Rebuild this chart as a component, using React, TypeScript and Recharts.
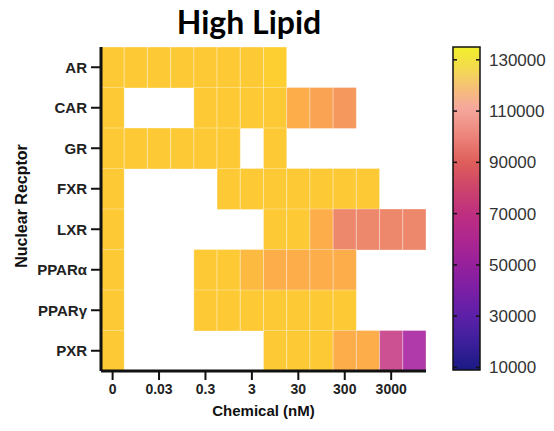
import React from "react";
import { BarChart, Bar, XAxis, YAxis, Cell, Label } from "recharts";

// rows / columns of the heatmap
const receptors = ["AR", "CAR", "GR", "FXR", "LXR", "PPARα", "PPARγ", "PXR"];
const concentrations = [
  "0", "0.01", "0.03", "0.1", "0.3", "1", "3",
  "10", "30", "100", "300", "1000", "3000", "10000",
];
const xTickLabels = ["0", "0.03", "0.3", "3", "30", "300", "3000"];

// activity per concentration (null = not measured / blank)
const n = null;
const arVals = [128000, 128000, 128000, 128000, 128000, 128000, 128000, 131000, n, n, n, n, n, n];
const carVals = [128000, n, n, n, 128000, 128000, 128000, 128000, 117000, 114000, 111000, n, n, n];
const grVals = [128000, 128000, 128000, 128000, 128000, 128000, n, 128000, n, n, n, n, n, n];
const fxrVals = [128000, n, n, n, n, 128000, 128000, 128000, 128000, 128000, 128000, 128000, n, n];
const lxrVals = [128000, n, n, n, n, n, n, 128000, 128000, 117000, 105000, 105000, 105000, 105000];
const pparaVals = [128000, n, n, n, 128000, 128000, 122000, 117000, 117000, 117000, 117000, n, n, n];
const ppargVals = [128000, n, n, n, 128000, 128000, 128000, 128000, 128000, 128000, 128000, n, n, n];
const pxrVals = [128000, n, n, n, n, n, n, 128000, 128000, 128000, 117000, 117000, 72000, 60000];

const matrix = [arVals, carVals, grVals, fxrVals, lxrVals, pparaVals, ppargVals, pxrVals];

// colour bar
const cbMin = 9000;
const cbMax = 135000;
const cbTicks = [130000, 110000, 90000, 70000, 50000, 30000, 10000];

const cellStops: [number, string][] = [
  [60000, "#b03aa9"],
  [72000, "#cc5193"],
  [105000, "#ee886c"],
  [111000, "#f5985e"],
  [114000, "#faa453"],
  [117000, "#fdad4a"],
  [122000, "#fdba41"],
  [128000, "#fdc935"],
  [131000, "#fecf31"],
];

const barStops: [number, string][] = [
  [135000, "#f2ef2a"],
  [127000, "#f3db4e"],
  [119000, "#f6bf78"],
  [111000, "#f5a79c"],
  [100000, "#ec837a"],
  [90000, "#de5e5a"],
  [80000, "#cd446b"],
  [70000, "#bf2f80"],
  [60000, "#ad278f"],
  [50000, "#96209c"],
  [40000, "#7a1fa6"],
  [30000, "#5c20a8"],
  [20000, "#3d1f9b"],
  [9000, "#1a1a84"],
];

function hexToRgb(h: string) {
  const v = parseInt(h.slice(1), 16);
  return [(v >> 16) & 255, (v >> 8) & 255, v & 255];
}

function cellColor(v: number | null) {
  if (v == null) return "transparent";
  if (v <= cellStops[0][0]) return cellStops[0][1];
  for (let i = 1; i < cellStops.length; i++) {
    const [v1, c1] = cellStops[i];
    const [v0, c0] = cellStops[i - 1];
    if (v <= v1) {
      const t = (v - v0) / (v1 - v0);
      const a = hexToRgb(c0);
      const b = hexToRgb(c1);
      const m = a.map((x, k) => Math.round(x + (b[k] - x) * t));
      return `rgb(${m[0]},${m[1]},${m[2]})`;
    }
  }
  return cellStops[cellStops.length - 1][1];
}

const rows = receptors.map((name) => {
  const row: any = { name };
  concentrations.forEach((_, ci) => {
    row[`c${ci}`] = 1;
  });
  return row;
});

const cbData = [{ name: "scale", range: [cbMin, cbMax] }];

const xTicks = xTickLabels.map((lbl) => concentrations.indexOf(lbl) + 0.5);

const frame = { stroke: "#111", strokeWidth: 3 };

const YTitle = (props: any) => {
  const { viewBox } = props;
  const cy = viewBox.y + viewBox.height / 2 - 3;
  return (
    <text
      x={21}
      y={cy}
      transform={`rotate(-90, 21, ${cy})`}
      textAnchor="middle"
      dominantBaseline="central"
      fontSize={16}
      fontWeight="bold"
      fill="#111"
    >
      Nuclear Recptor
    </text>
  );
};

const CbTick = (props: any) => {
  const { x, y, payload } = props;
  return (
    <g>
      <line x1={x - 27} x2={x - 23} y1={y} y2={y} stroke="#111" strokeWidth={1.5} />
      <line x1={x - 4} x2={x} y1={y} y2={y} stroke="#111" strokeWidth={1.5} />
      <text x={x + 9} y={y} dy={6} fontSize={17} fill="#333">
        {payload.value}
      </text>
    </g>
  );
};

export default function App() {
  return (
    <div
      style={{
        position: "absolute",
        left: 0,
        top: 0,
        width: 554,
        height: 431,
        background: "#fff",
        fontFamily: "'Liberation Sans', Arial, sans-serif",
      }}
    >
      <div
        style={{
          position: "absolute",
          left: 149,
          top: 6,
          width: 200,
          textAlign: "center",
          fontFamily: "Lato, 'Open Sans', sans-serif",
          fontWeight: 700,
          fontSize: 32,
          lineHeight: "32px",
          color: "#000",
        }}
      >
        High Lipid
      </div>

      <div style={{ position: "absolute", left: 0, top: 0 }}>
        <BarChart
          width={554}
          height={431}
          data={rows}
          layout="vertical"
          margin={{ top: 47, right: 128, bottom: 0, left: 20 }}
          barCategoryGap={0}
          barGap={0}
        >
          <XAxis
            type="number"
            domain={[0, concentrations.length]}
            ticks={xTicks}
            interval={0}
            height={60}
            tickFormatter={(v: number) => concentrations[Math.round(v - 0.5)]}
            tick={{ fontSize: 14, fontWeight: "bold", fill: "#222" }}
            tickSize={9}
            tickMargin={4}
            tickLine={{ stroke: "#111", strokeWidth: 2 }}
            axisLine={frame}
          >
            <Label
              value="Chemical (nM)"
              position="insideBottom"
              offset={15}
              style={{ fontSize: 15, fontWeight: "bold", fill: "#111" }}
            />
          </XAxis>
          <XAxis
            xAxisId="top"
            orientation="top"
            type="number"
            domain={[0, 1]}
            height={0}
            tick={false}
            tickLine={false}
            axisLine={frame}
          />
          <YAxis
            type="category"
            dataKey="name"
            width={81}
            tick={{ fontSize: 15, fontWeight: "bold", fill: "#222" }}
            tickSize={10}
            tickMargin={4}
            tickLine={{ stroke: "#111", strokeWidth: 2 }}
            axisLine={frame}
          >
            <Label content={<YTitle />} />
          </YAxis>
          <YAxis
            yAxisId="right"
            orientation="right"
            type="number"
            domain={[0, 1]}
            width={0}
            tick={false}
            tickLine={false}
            axisLine={frame}
          />
          {concentrations.map((_, ci) => (
            <Bar key={ci} dataKey={`c${ci}`} stackId="s" isAnimationActive={false}>
              {rows.map((_r, ri) => {
                const v = matrix[ri][ci];
                return (
                  <Cell
                    key={ri}
                    fill={cellColor(v)}
                    stroke={v == null ? "none" : "rgba(255,255,255,0.3)"}
                    strokeWidth={1}
                  />
                );
              })}
            </Bar>
          ))}
        </BarChart>
      </div>

      <div style={{ position: "absolute", left: 440, top: 0 }}>
        <BarChart
          width={114}
          height={431}
          data={cbData}
          margin={{ top: 47, right: 0, bottom: 61, left: 13 }}
          barCategoryGap={0}
        >
          <defs>
            <linearGradient id="cbGrad" x1="0" y1="0" x2="0" y2="1">
              {barStops.map(([v, c]) => (
                <stop key={v} offset={(cbMax - v) / (cbMax - cbMin)} stopColor={c} />
              ))}
            </linearGradient>
          </defs>
          <XAxis dataKey="name" hide />
          <YAxis
            orientation="right"
            type="number"
            domain={[cbMin, cbMax]}
            ticks={cbTicks}
            interval={0}
            width={74}
            axisLine={false}
            tickLine={false}
            tickSize={0}
            tickMargin={0}
            tick={<CbTick />}
          />
          <Bar
            dataKey="range"
            fill="url(#cbGrad)"
            stroke="#111"
            strokeWidth={1.5}
            isAnimationActive={false}
          />
        </BarChart>
      </div>
    </div>
  );
}
